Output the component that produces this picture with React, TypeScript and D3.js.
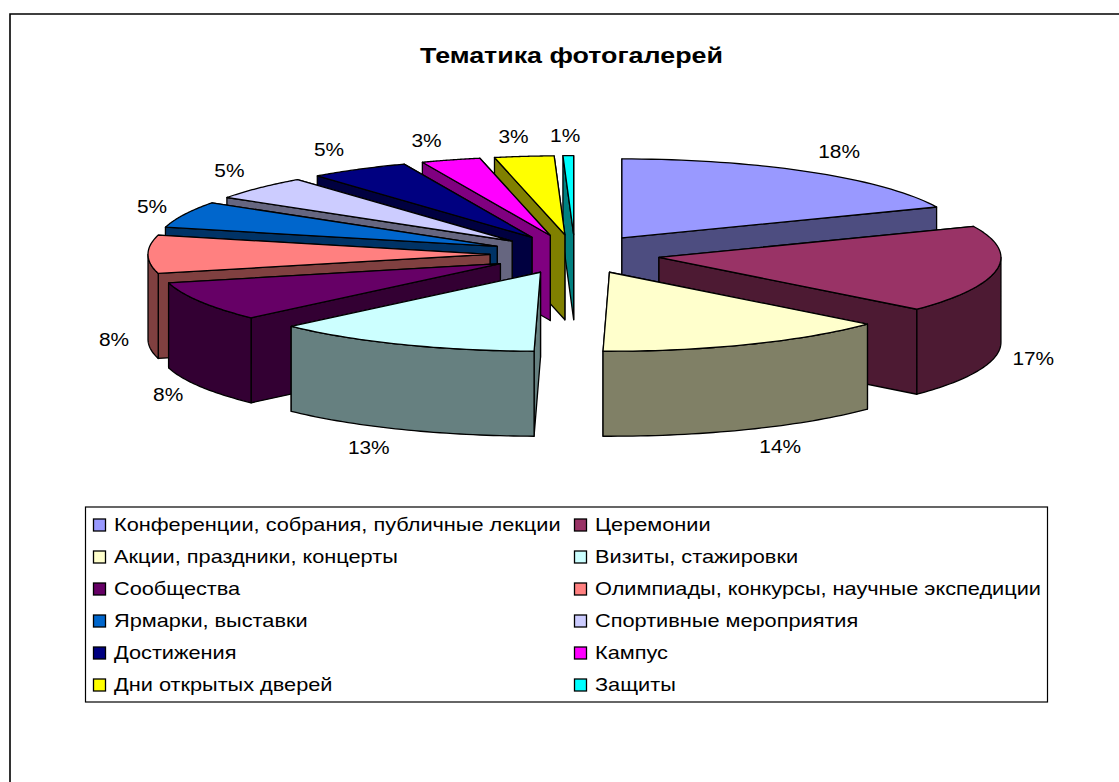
import React from "react";
import * as d3 from "d3";

const categories = [
  "Конференции, собрания, публичные лекции",
  "Церемонии",
  "Акции, праздники, концерты",
  "Визиты, стажировки",
  "Сообщества",
  "Олимпиады, конкурсы, научные экспедиции",
  "Ярмарки, выставки",
  "Спортивные мероприятия",
  "Достижения",
  "Кампус",
  "Дни открытых дверей",
  "Защиты",
];
const shares = [18.6, 17.8, 13.9, 12.7, 8.1, 7.8, 5.4, 4.9, 4.7, 2.8, 2.8, 0.5];
const labels = ["18%", "17%", "14%", "13%", "8%", "8%", "5%", "5%", "5%", "3%", "3%", "1%"];
const topColors = ["#9999FF", "#993366", "#FFFFCC", "#CCFFFF", "#660066", "#FF8080", "#0066CC", "#CCCCFF", "#000080", "#FF00FF", "#FFFF00", "#00FFFF"];

const CX = 575, CY = 254.3, RX = 342, RY = 79, DEPTH = 85, EXPLODE = 0.2485;
const FONT = "'Liberation Sans', Arial, sans-serif";

const pieGen = d3.pie<number>().sort(null);
const arcs = pieGen(shares);
const line = d3.line<[number, number]>();

function wall(c: string) {
  const k = d3.rgb(c);
  return d3.rgb(k.r * 0.5, k.g * 0.5, k.b * 0.5).formatHex();
}

function App() {
  const labelNudge: [number, number][] = [[-5, -3], [3, 0], [5, -2], [-6, -1], [5, -2], [-1, 0], [4, 0], [8, -3], [2, -2], [-4, 1], [-2, 1], [-2, 1]];
  const slices = arcs.map((a, i) => {
    const mid = (a.startAngle + a.endAngle) / 2;
    const ax = CX + RX * EXPLODE * Math.sin(mid);
    const ay = CY - RY * EXPLODE * Math.cos(mid);
    const pt = (t: number): [number, number] => [ax + RX * Math.sin(t), ay - RY * Math.cos(t)];
    const down = (p: [number, number]): [number, number] => [p[0], p[1] + DEPTH];
    const arcPts = (s: number, e: number) => d3.range(0, 41).map((k) => pt(s + ((e - s) * k) / 40));
    const top = [[ax, ay] as [number, number], ...arcPts(a.startAngle, a.endAngle)];
    const radial = (t: number) => {
      const o = pt(t);
      return [[ax, ay], o, down(o), [ax, ay + DEPTH]] as [number, number][];
    };
    const radials = [a.startAngle, a.endAngle]
      .sort((p, q) => pt(p)[1] - pt(q)[1])
      .map(radial);
    const s0 = Math.max(a.startAngle, Math.PI / 2);
    const e0 = Math.min(a.endAngle, (3 * Math.PI) / 2);
    let outer: [number, number][] | null = null;
    if (e0 > s0) {
      const p = arcPts(s0, e0);
      outer = [...p, ...p.map(down).reverse()];
    }
    const sn = Math.sin(mid), cs = Math.cos(mid);
    const lx = ax + (375 + 40 * cs * cs) * sn + labelNudge[i][0];
    const ly = ay - 100 * cs + (cs < 0.1 ? DEPTH : 0) + labelNudge[i][1];
    return { i, cs, top, radials, outer, lx, ly };
  });
  const order = [...slices].sort((p, q) => q.cs - p.cs);
  const rows = d3.range(0, 6);
  const rowY = d3.scaleLinear().domain([0, 5]).range([525, 685]);
  const colX = [93.5, 574.5];

  return (
    <svg width={1119} height={782} style={{ position: "absolute", left: 0, top: 0, background: "#fff" }}>
      <path d="M10 782V14H1119" fill="none" stroke="#000" strokeWidth={1.6} />
      <text transform="translate(571.5,63) scale(1.22,1)" textAnchor="middle" fontFamily={FONT} fontWeight="bold" fontSize={22} fill="#000">
        Тематика фотогалерей
      </text>
      {order.map((s) => {
        const c = topColors[s.i], w = wall(c);
        return (
          <g key={s.i} stroke="#000" strokeWidth={1.3} strokeLinejoin="round">
            {s.radials.map((r, k) => (
              <path key={k} d={line(r) + "Z"} fill={w} />
            ))}
            {s.outer && <path d={line(s.outer) + "Z"} fill={w} />}
            <path d={line(s.top) + "Z"} fill={c} />
          </g>
        );
      })}
      {slices.map((s) => (
        <text key={s.i} transform={`translate(${s.lx},${s.ly}) scale(1.13,1)`} dy="0.35em" textAnchor="middle" fontFamily={FONT} fontSize={18.5} fill="#000">
          {labels[s.i]}
        </text>
      ))}
      <rect x={85.5} y={507} width={962} height={195} fill="#fff" stroke="#000" strokeWidth={1.2} />
      {categories.map((name, i) => {
        const col = i % 2, row = rows[Math.floor(i / 2)];
        const y = rowY(row);
        return (
          <g key={i}>
            <rect x={colX[col]} y={y - 6} width={12} height={12} fill={topColors[i]} stroke="#000" strokeWidth={1.3} />
            <text transform={`translate(${colX[col] + 20.5},${y}) scale(1.175,1)`} dy="0.35em" fontFamily={FONT} fontSize={18.5} fill="#000">
              {name}
            </text>
          </g>
        );
      })}
    </svg>
  );
}

export default App;
